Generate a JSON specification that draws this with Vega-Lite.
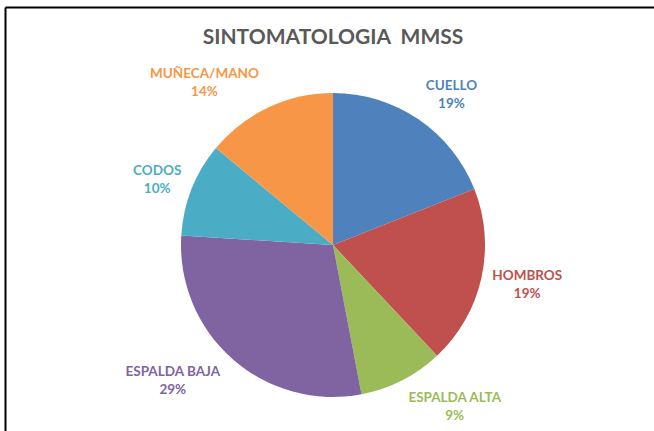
{
  "$schema": "https://vega.github.io/schema/vega-lite/v6.json",
  "autosize": {"type": "none"},
  "width": 656,
  "height": 476,
  "padding": {"left": 5, "top": 7, "right": -7, "bottom": -52},
  "background": "white",
  "view": {"stroke": null},
  "config": {
    "font": "Lato"
  },
  "title": {
    "text": "SINTOMATOLOGIA\u00a0 MMSS",
    "font": "Lato",
    "fontSize": 21,
    "fontWeight": "bold",
    "color": "#595959",
    "anchor": "middle",
    "offset": -41
  },
  "data": {
    "values": [
      {"categoria": "CUELLO", "valor": 19, "orden": 1},
      {"categoria": "HOMBROS", "valor": 19, "orden": 2},
      {"categoria": "ESPALDA ALTA", "valor": 9, "orden": 3},
      {"categoria": "ESPALDA BAJA", "valor": 29, "orden": 4},
      {"categoria": "CODOS", "valor": 10, "orden": 5},
      {"categoria": "MUÑECA/MANO", "valor": 14, "orden": 6}
    ]
  },
  "transform": [
    {"calculate": "datum.categoria + '\\n' + datum.valor + '%'", "as": "etiqueta"}
  ],
  "layer": [
    {
      "mark": {"type": "point", "opacity": 0},
      "encoding": {
        "x": {"field": "valor", "type": "quantitative", "axis": {"orient": "top", "domain": true, "domainColor": "#000000", "domainWidth": 2, "ticks": false, "labels": false, "grid": false, "title": null}},
        "y": {"field": "valor", "type": "quantitative", "axis": {"orient": "left", "domain": true, "domainColor": "#000000", "domainWidth": 2, "ticks": false, "labels": false, "grid": false, "title": null}}
      }
    },
    {
      "mark": {"type": "arc", "outerRadius": 152},
      "encoding": {
        "theta": {"field": "valor", "type": "quantitative", "stack": true},
        "order": {"field": "orden", "type": "quantitative"},
        "color": {
          "field": "categoria",
          "type": "nominal",
          "scale": {
            "domain": ["CUELLO", "HOMBROS", "ESPALDA ALTA", "ESPALDA BAJA", "CODOS", "MUÑECA/MANO"],
            "range": ["#4F81BD", "#C0504D", "#9BBB59", "#8064A2", "#4BACC6", "#F79646"]
          },
          "legend": null
        }
      }
    },
    {
      "mark": {"type": "text", "radius": 193, "dx": 10, "dy": 1, "fontSize": 13.5, "fontWeight": "bold", "lineBreak": "\n", "lineHeight": 18, "align": "center", "baseline": "middle"},
      "encoding": {
        "theta": {"field": "valor", "type": "quantitative", "stack": true},
        "order": {"field": "orden", "type": "quantitative"},
        "color": {"field": "categoria", "type": "nominal", "legend": null},
        "text": {"condition": {"test": "datum.categoria === 'CUELLO'", "field": "etiqueta"}, "value": ""}
      }
    },
    {
      "mark": {"type": "text", "radius": 198, "dx": 1, "dy": -12, "fontSize": 13.5, "fontWeight": "bold", "lineBreak": "\n", "lineHeight": 18, "align": "center", "baseline": "middle"},
      "encoding": {
        "theta": {"field": "valor", "type": "quantitative", "stack": true},
        "order": {"field": "orden", "type": "quantitative"},
        "color": {"field": "categoria", "type": "nominal", "legend": null},
        "text": {"condition": {"test": "datum.categoria === 'HOMBROS'", "field": "etiqueta"}, "value": ""}
      }
    },
    {
      "mark": {"type": "text", "radius": 202, "dx": 30, "dy": -27, "fontSize": 13.5, "fontWeight": "bold", "lineBreak": "\n", "lineHeight": 18, "align": "center", "baseline": "middle"},
      "encoding": {
        "theta": {"field": "valor", "type": "quantitative", "stack": true},
        "order": {"field": "orden", "type": "quantitative"},
        "color": {"field": "categoria", "type": "nominal", "legend": null},
        "text": {"condition": {"test": "datum.categoria === 'ESPALDA ALTA'", "field": "etiqueta"}, "value": ""}
      }
    },
    {
      "mark": {"type": "text", "radius": 209, "dx": -22, "dy": -30, "fontSize": 13.5, "fontWeight": "bold", "lineBreak": "\n", "lineHeight": 18, "align": "center", "baseline": "middle"},
      "encoding": {
        "theta": {"field": "valor", "type": "quantitative", "stack": true},
        "order": {"field": "orden", "type": "quantitative"},
        "color": {"field": "categoria", "type": "nominal", "legend": null},
        "text": {"condition": {"test": "datum.categoria === 'ESPALDA BAJA'", "field": "etiqueta"}, "value": ""}
      }
    },
    {
      "mark": {"type": "text", "radius": 188, "dx": -1, "dy": -5, "fontSize": 13.5, "fontWeight": "bold", "lineBreak": "\n", "lineHeight": 18, "align": "center", "baseline": "middle"},
      "encoding": {
        "theta": {"field": "valor", "type": "quantitative", "stack": true},
        "order": {"field": "orden", "type": "quantitative"},
        "color": {"field": "categoria", "type": "nominal", "legend": null},
        "text": {"condition": {"test": "datum.categoria === 'CODOS'", "field": "etiqueta"}, "value": ""}
      }
    },
    {
      "mark": {"type": "text", "radius": 208, "dx": -40, "dy": 17, "fontSize": 13.5, "fontWeight": "bold", "lineBreak": "\n", "lineHeight": 18, "align": "center", "baseline": "middle"},
      "encoding": {
        "theta": {"field": "valor", "type": "quantitative", "stack": true},
        "order": {"field": "orden", "type": "quantitative"},
        "color": {"field": "categoria", "type": "nominal", "legend": null},
        "text": {"condition": {"test": "datum.categoria === 'MUÑECA/MANO'", "field": "etiqueta"}, "value": ""}
      }
    }
  ]
}
